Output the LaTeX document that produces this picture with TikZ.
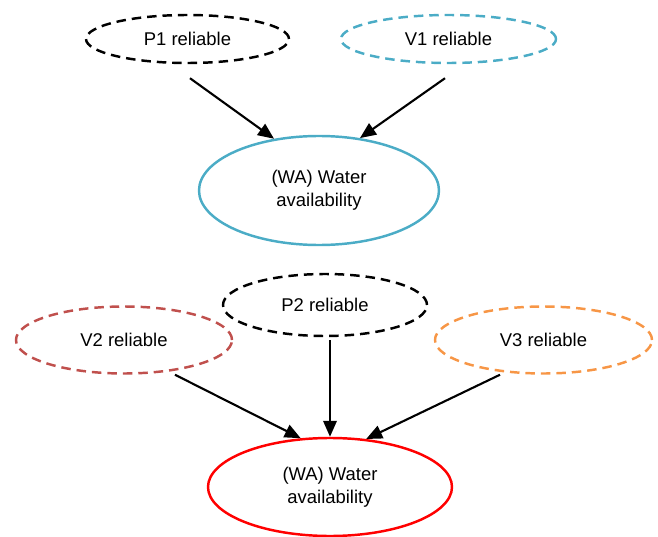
\documentclass[tikz,border=0pt]{standalone}
\usepackage{fontspec}
\setmainfont{Liberation Sans}
\usetikzlibrary{shapes.geometric,arrows.meta}
\definecolor{bnblue}{RGB}{75,172,198}
\definecolor{bnred}{RGB}{192,80,77}
\definecolor{bnorange}{RGB}{247,150,70}
\begin{document}
\begin{tikzpicture}[font=\fontsize{10.5}{13.2}\selectfont,
  var/.style={ellipse,draw,line width=1.4pt,inner sep=0pt,align=center},
  dsh/.style={dash pattern=on 5.4pt off 3.4pt},
  arr/.style={-{Triangle[length=0.32cm,width=0.27cm]},line width=1.2pt}]
\useasboundingbox (0,0) rectangle (13.16,-10.74);

\node [var,dsh,minimum width=4.06cm,minimum height=0.96cm] (p1) at (3.75,-0.78) {P1 reliable};
\node [var,dsh,bnblue,text=black,minimum width=4.3cm,minimum height=0.96cm] (v1) at (8.97,-0.78) {V1 reliable};
\node [var,bnblue,text=black,minimum width=4.8cm,minimum height=2.18cm] (wa1) at (6.38,-3.81) {(WA) Water\\availability};

\node [var,dsh,minimum width=4.08cm,minimum height=1.24cm] (p2) at (6.5,-6.1) {P2 reliable};
\node [var,dsh,bnred,text=black,minimum width=4.32cm,minimum height=1.34cm] (v2) at (2.48,-6.8) {V2 reliable};
\node [var,dsh,bnorange,text=black,minimum width=4.34cm,minimum height=1.34cm] (v3) at (10.87,-6.8) {V3 reliable};
\node [var,red,text=black,minimum width=4.88cm,minimum height=1.96cm] (wa2) at (6.6,-9.74) {(WA) Water\\availability};

\draw [arr] ([shift={(0.05,-0.28)}]p1.south) -- (wa1.131);
\draw [arr] ([shift={(-0.07,-0.28)}]v1.south) -- (wa1.52);

\draw [arr] ([shift={(1.02,0)}]v2.south) -- (wa2.121);
\draw [arr] ([shift={(0.1,-0.06)}]p2.south) -- (wa2.90);
\draw [arr] ([shift={(-0.87,0)}]v3.south) -- (wa2.53.5);

\end{tikzpicture}
\end{document}
